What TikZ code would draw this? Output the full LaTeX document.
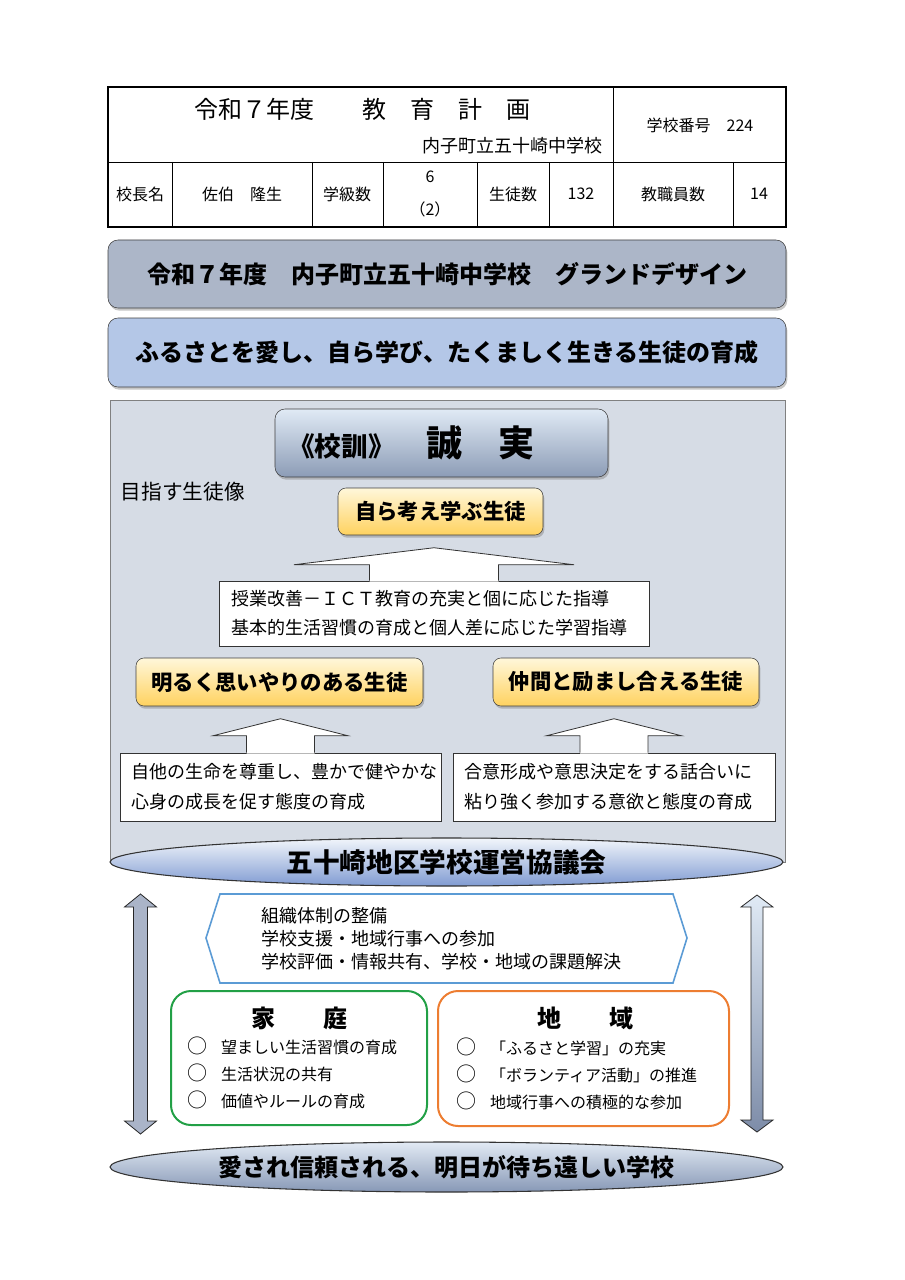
\documentclass[tikz,border=0pt]{standalone}
\usepackage{fontspec}
\setmainfont{Noto Sans CJK JP}
\usetikzlibrary{shapes.geometric,shadows}

\definecolor{titlegray}{RGB}{172,182,200}
\definecolor{aimblue}{RGB}{180,199,231}
\definecolor{panelgray}{RGB}{214,220,229}
\definecolor{mottotop}{RGB}{224,234,245}
\definecolor{mottobottom}{RGB}{140,156,182}
\definecolor{goldtop}{RGB}{255,247,218}
\definecolor{goldbottom}{RGB}{255,210,95}
\definecolor{counciltop}{RGB}{242,246,251}
\definecolor{councilbottom}{RGB}{128,155,210}
\definecolor{goaltop}{RGB}{226,234,244}
\definecolor{goalbottom}{RGB}{135,152,182}
\definecolor{hexblue}{RGB}{91,155,213}
\definecolor{homegreen}{RGB}{34,160,70}
\definecolor{areaorange}{RGB}{237,125,49}
\definecolor{leftfill}{RGB}{170,180,200}
\definecolor{righttop}{RGB}{224,234,245}
\definecolor{rightbottom}{RGB}{125,140,168}

\newcommand{\bullitem}{{\fontsize{15}{15}\selectfont ○}}

\begin{document}
\begin{tikzpicture}[x=0.75pt,y=-0.75pt,
  cell/.style={font=\fontsize{12}{15}\selectfont},
  softshadow/.style={drop shadow={shadow xshift=1pt,shadow yshift=-2pt,opacity=0.45}},
  banner/.style={draw=black!75, rounded corners=7.5pt, minimum width=508.5pt, minimum height=51pt, inner sep=0pt, font=\fontsize{18}{22}\selectfont\bfseries, softshadow},
  goalbox/.style={draw=black!75, rounded corners=6pt, top color=goldtop, bottom color=goldbottom, inner sep=0pt, font=\fontsize{16}{20}\selectfont\bfseries, softshadow},
  notebox/.style={draw=black!80, fill=white, align=left, inner xsep=8.25pt, inner ysep=0pt, font=\fontsize{13.5}{22.5}\selectfont},
  blockarrow/.style={draw=black!80, line width=0.6pt},
  ovalbox/.style={ellipse, draw=black!80, line width=0.8pt, inner sep=0pt, font=\fontsize{20}{24}\selectfont\bfseries},
  partnerbox/.style={rounded corners=15pt, line width=1.5pt, fill=white, inner sep=0pt},
  partnertitle/.style={font=\fontsize{18}{22}\selectfont\bfseries},
  itemlist/.style={align=left, anchor=west, font=\fontsize{12}{20.25}\selectfont},
  dblarrow/.style={draw=black!85, line width=0.6pt}
]
\useasboundingbox (0,0) rectangle (904,1280);
% header table
\draw[line width=1.5pt] (108,87) rectangle (786,227);
\draw (108,162) -- (786,162);
\draw (613,87) -- (613,227);
\foreach \x in {172,312,383,477,549,733} \draw (\x,162) -- (\x,227);
\node[anchor=west, font=\fontsize{18}{22}\selectfont] (plan) at (190,109) {令和７年度　　教　育　計　画};
\node[anchor=east, font=\fontsize{13.5}{16}\selectfont] (school) at (607,146) {内子町立五十崎中学校};
\node[cell] (number) at (700,125) {学校番号　224};
\node[cell] (head) at (140,194) {校長名};
\node[cell] (headname) at (242,194) {佐伯　隆生};
\node[cell] (classes) at (347,194) {学級数};
\node[cell, align=center, font=\fontsize{12}{25}\selectfont] (classnum) at (430,194) {6\\（2）};
\node[cell] (students) at (513,194) {生徒数};
\node[cell] (studentnum) at (581,194) {132};
\node[cell] (staff) at (673,194) {教職員数};
\node[cell] (staffnum) at (759,194) {14};
% banners
\node[banner, fill=titlegray] (design) at (447,274) {令和７年度　内子町立五十崎中学校　グランドデザイン};
\node[banner, fill=aimblue, minimum height=51.75pt] (aim) at (447,352.5) {ふるさとを愛し、自ら学び、たくましく生きる生徒の育成};
% panel
\draw[draw=black!50, fill=panelgray] (110,400) rectangle (785,862);
\node[draw=black!75, rounded corners=7.5pt, top color=mottotop, bottom color=mottobottom, minimum height=51pt, text width=230.25pt, inner xsep=9.75pt, align=left, softshadow] (motto) at (441.5,443) {{\fontsize{20}{24}\selectfont\bfseries 《校訓》}\hspace*{24pt}{\fontsize{27}{30}\selectfont\bfseries 誠　実}};
\node[anchor=west, font=\fontsize{15.5}{18}\selectfont] (aimlabel) at (116,492) {目指す生徒像};
\node[goalbox, minimum width=153.75pt, minimum height=35.25pt] (self) at (440.5,511.5) {自ら考え学ぶ生徒};
\node[notebox, text width=304.5pt, inner xsep=9pt, minimum height=48.75pt, font=\fontsize{13.5}{21.75}\selectfont] (lesson) at (434,613.5) {授業改善－ＩＣＴ教育の充実と個に応じた指導\\基本的生活習慣の育成と個人差に応じた学習指導};
\fill[white, shift={(lesson.north)}] (-64.5,1) -- (-64.5,-16) -- (-140,-16) -- (0,-33) -- (140,-16) -- (64.5,-16) -- (64.5,1) -- cycle;
\draw[blockarrow, shift={(lesson.north)}] (-64.5,0) -- (-64.5,-16) -- (-140,-16) -- (0,-33) -- (140,-16) -- (64.5,-16) -- (64.5,0);
\node[goalbox, minimum width=215.25pt, minimum height=36pt] (bright) at (279.5,682) {明るく思いやりのある生徒};
\node[goalbox, minimum width=199.5pt, minimum height=36pt] (mates) at (626,682) {仲間と励まし合える生徒};
\node[notebox, text width=224.25pt, minimum height=51pt] (life) at (280.5,787) {自他の生命を尊重し、豊かで健やかな\\心身の成長を促す態度の育成};
\node[notebox, text width=225pt, minimum height=51pt] (talk) at (614,787) {合意形成や意思決定をする話合いに\\粘り強く参加する意欲と態度の育成};
\foreach \note in {life,talk} {
  \fill[white, shift={(\note.north)}] (-34,1) -- (-34,-17) -- (-67.5,-17) -- (0,-34) -- (67.5,-17) -- (34,-17) -- (34,1) -- cycle;
  \draw[blockarrow, shift={(\note.north)}] (-34,0) -- (-34,-17) -- (-67.5,-17) -- (0,-34) -- (67.5,-17) -- (34,-17) -- (34,0);
}
\node[ovalbox, minimum width=504.75pt, minimum height=36pt, top color=counciltop, bottom color=councilbottom] (council) at (446.5,862) {五十崎地区学校運営協議会};
% council support
\draw[hexblue, line width=1.2pt, fill=white] (206,938) -- (220,894) -- (673,894) -- (687,938) -- (673,983) -- (220,983) -- cycle;
\node[itemlist, font=\fontsize{13.5}{17.25}\selectfont] (support) at (257,939) {組織体制の整備\\学校支援・地域行事への参加\\学校評価・情報共有、学校・地域の課題解決};
% home and community
\node[partnerbox, draw=homegreen, minimum width=192pt, minimum height=100.5pt] (home) at (299,1058) {};
\node[partnertitle] (hometitle) at (299,1018) {家　　庭};
\node[itemlist] (homeitems) at (183,1073) {\bullitem\hspace{10pt}望ましい生活習慣の育成\\\bullitem\hspace{10pt}生活状況の共有\\\bullitem\hspace{10pt}価値やルールの育成};
\node[partnerbox, draw=areaorange, minimum width=218.25pt, minimum height=101.25pt] (area) at (583.5,1058.5) {};
\node[partnertitle] (areatitle) at (585,1018) {地　　域};
\node[itemlist] (areaitems) at (452,1074) {\bullitem\hspace{10pt}「ふるさと学習」の充実\\\bullitem\hspace{10pt}「ボランティア活動」の推進\\\bullitem\hspace{10pt}地域行事への積極的な参加};
% two-way arrows
\coordinate (leftup) at (140.5,894);
\coordinate (rightup) at (757,895);
\draw[dblarrow, fill=leftfill, shift={(leftup)}] (0,0) -- (16,13) -- (7,13) -- (7,227) -- (16,227) -- (0,240) -- (-16,227) -- (-7,227) -- (-7,13) -- (-16,13) -- cycle;
\draw[dblarrow, top color=righttop, bottom color=rightbottom, shift={(rightup)}] (0,0) -- (16,12) -- (6,12) -- (6,225) -- (16,225) -- (0,237) -- (-16,225) -- (-6,225) -- (-6,12) -- (-16,12) -- cycle;
\node[ovalbox, minimum width=504.75pt, minimum height=37.5pt, top color=goaltop, bottom color=goalbottom, font=\fontsize{18}{22}\selectfont\bfseries] (goal) at (446.5,1167) {愛され信頼される、明日が待ち遠しい学校};
\end{tikzpicture}
\end{document}
